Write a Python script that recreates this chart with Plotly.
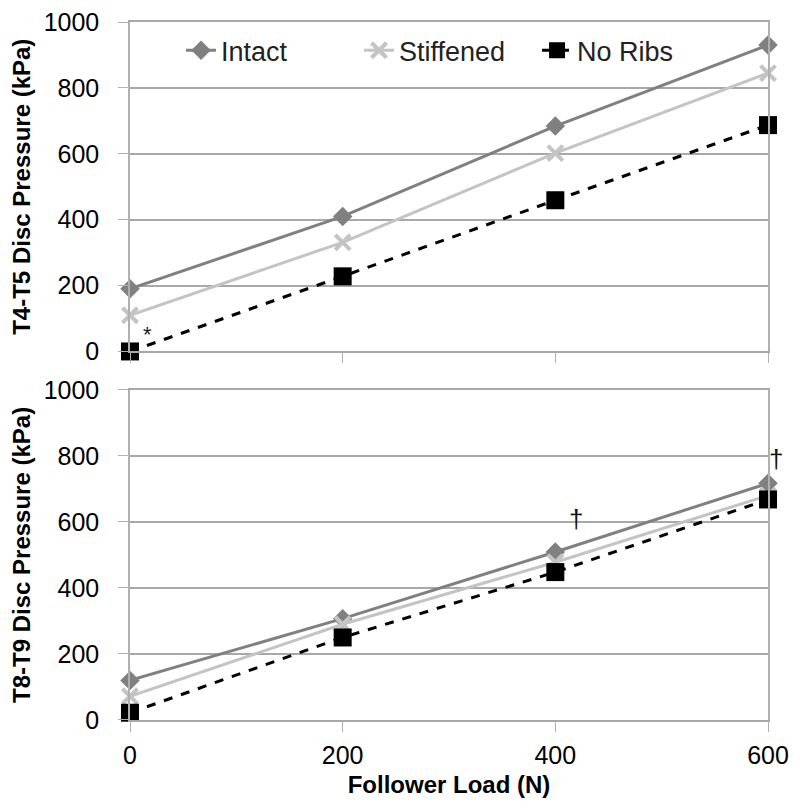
import plotly.graph_objects as go
from plotly.subplots import make_subplots

loads = [0, 200, 400, 600]
t45_intact = [190, 410, 684, 930]
t45_stiff = [110, 331, 602, 845]
t45_noribs = [0, 228, 459, 687]
t89_intact = [120, 307, 509, 717]
t89_stiff = [72, 290, 478, 680]
t89_noribs = [22, 250, 448, 668]
yticks = [0, 200, 400, 600, 800, 1000]
xticks = [0, 200, 400, 600]

fig = make_subplots(rows=2, cols=1, shared_xaxes=False, vertical_spacing=0.057)

FONT = "Liberation Sans, Arial, sans-serif"
C_INT = "#808080"
C_STF = "#c4c4c4"
C_NR = "#000000"

def add_set(row, ai, as_, an, show):
    fig.add_trace(go.Scatter(x=loads, y=ai, name="Intact", mode="lines+markers",
                             line=dict(color=C_INT, width=3),
                             marker=dict(symbol="diamond", size=15, color=C_INT),
                             cliponaxis=False, showlegend=show), row=row, col=1)
    fig.add_trace(go.Scatter(x=loads, y=as_, name="Stiffened", mode="lines+markers",
                             line=dict(color=C_STF, width=3),
                             marker=dict(symbol="x-thin", size=15, color=C_STF,
                                         line=dict(color=C_STF, width=4)),
                             cliponaxis=False, showlegend=show), row=row, col=1)
    fig.add_trace(go.Scatter(x=loads, y=an, name="No Ribs", mode="lines+markers",
                             line=dict(color=C_NR, width=3, dash="dash"),
                             marker=dict(symbol="square", size=18, color=C_NR),
                             cliponaxis=False, showlegend=show), row=row, col=1)

add_set(1, t45_intact, t45_stiff, t45_noribs, True)
add_set(2, t89_intact, t89_stiff, t89_noribs, False)

axis_common = dict(range=[0, 1000], tickvals=yticks, showgrid=True, gridcolor="#a8a8a8",
                   gridwidth=1.5, showline=True, linecolor="#b0b0b0", linewidth=1.5,
                   mirror=True, ticks="outside", ticklen=10, tickcolor="#b0b0b0",
                   ticklabelstandoff=14, automargin=False, ticklabeloverflow="allow",
                   tickfont=dict(size=25, family=FONT, color="#000"), zeroline=False)
fig.update_yaxes(**axis_common)
fig.update_yaxes(title=dict(text="<b>T4-T5 Disc Pressure (kPa)</b>", font=dict(size=24, family=FONT, color="#000"), standoff=6), row=1, col=1)
fig.update_yaxes(title=dict(text="<b>T8-T9 Disc Pressure (kPa)</b>", font=dict(size=24, family=FONT, color="#000"), standoff=6), row=2, col=1)

xcommon = dict(range=[0, 600], tickvals=xticks, showgrid=False, showline=True,
               linecolor="#a8a8a8", linewidth=1.5, mirror=True, ticks="outside", ticklen=10,
               tickcolor="#b0b0b0", zeroline=False, ticklabelstandoff=2, automargin=False,
               ticklabeloverflow="allow",
               tickfont=dict(size=25, family=FONT, color="#000"))
fig.update_xaxes(**xcommon)
fig.update_xaxes(showticklabels=False, row=1, col=1)
fig.update_xaxes(title=dict(text="<b>Follower Load (N)</b>", font=dict(size=24, family=FONT, color="#000"), standoff=8), row=2, col=1)

fig.update_layout(yaxis=dict(domain=[0.528, 1.0]), yaxis2=dict(domain=[0.0, 0.473]))

fig.add_annotation(x=16, y=50, text="*", showarrow=False, xref="x", yref="y",
                   font=dict(size=22, family=FONT, color="#222"))
fig.add_annotation(x=419, y=608, text="†", showarrow=False, xref="x2", yref="y2",
                   font=dict(size=26, family=FONT, color="#111"))
fig.add_annotation(x=600, y=792, xshift=8, text="†", showarrow=False, xref="x2", yref="y2",
                   font=dict(size=26, family=FONT, color="#111"))

fig.update_layout(
    width=800, height=810,
    margin=dict(l=122, r=40, t=14, b=98),
    plot_bgcolor="white", paper_bgcolor="white",
    font=dict(family=FONT, size=20, color="#000"),
    legend=dict(orientation="h", x=0.08, y=0.994, xanchor="left", yanchor="top",
                bgcolor="rgba(255,255,255,0)", font=dict(size=27, family=FONT, color="#222"),
                entrywidth=133, entrywidthmode="pixels", tracegroupgap=0),
)

fig.write_html("out.html")
